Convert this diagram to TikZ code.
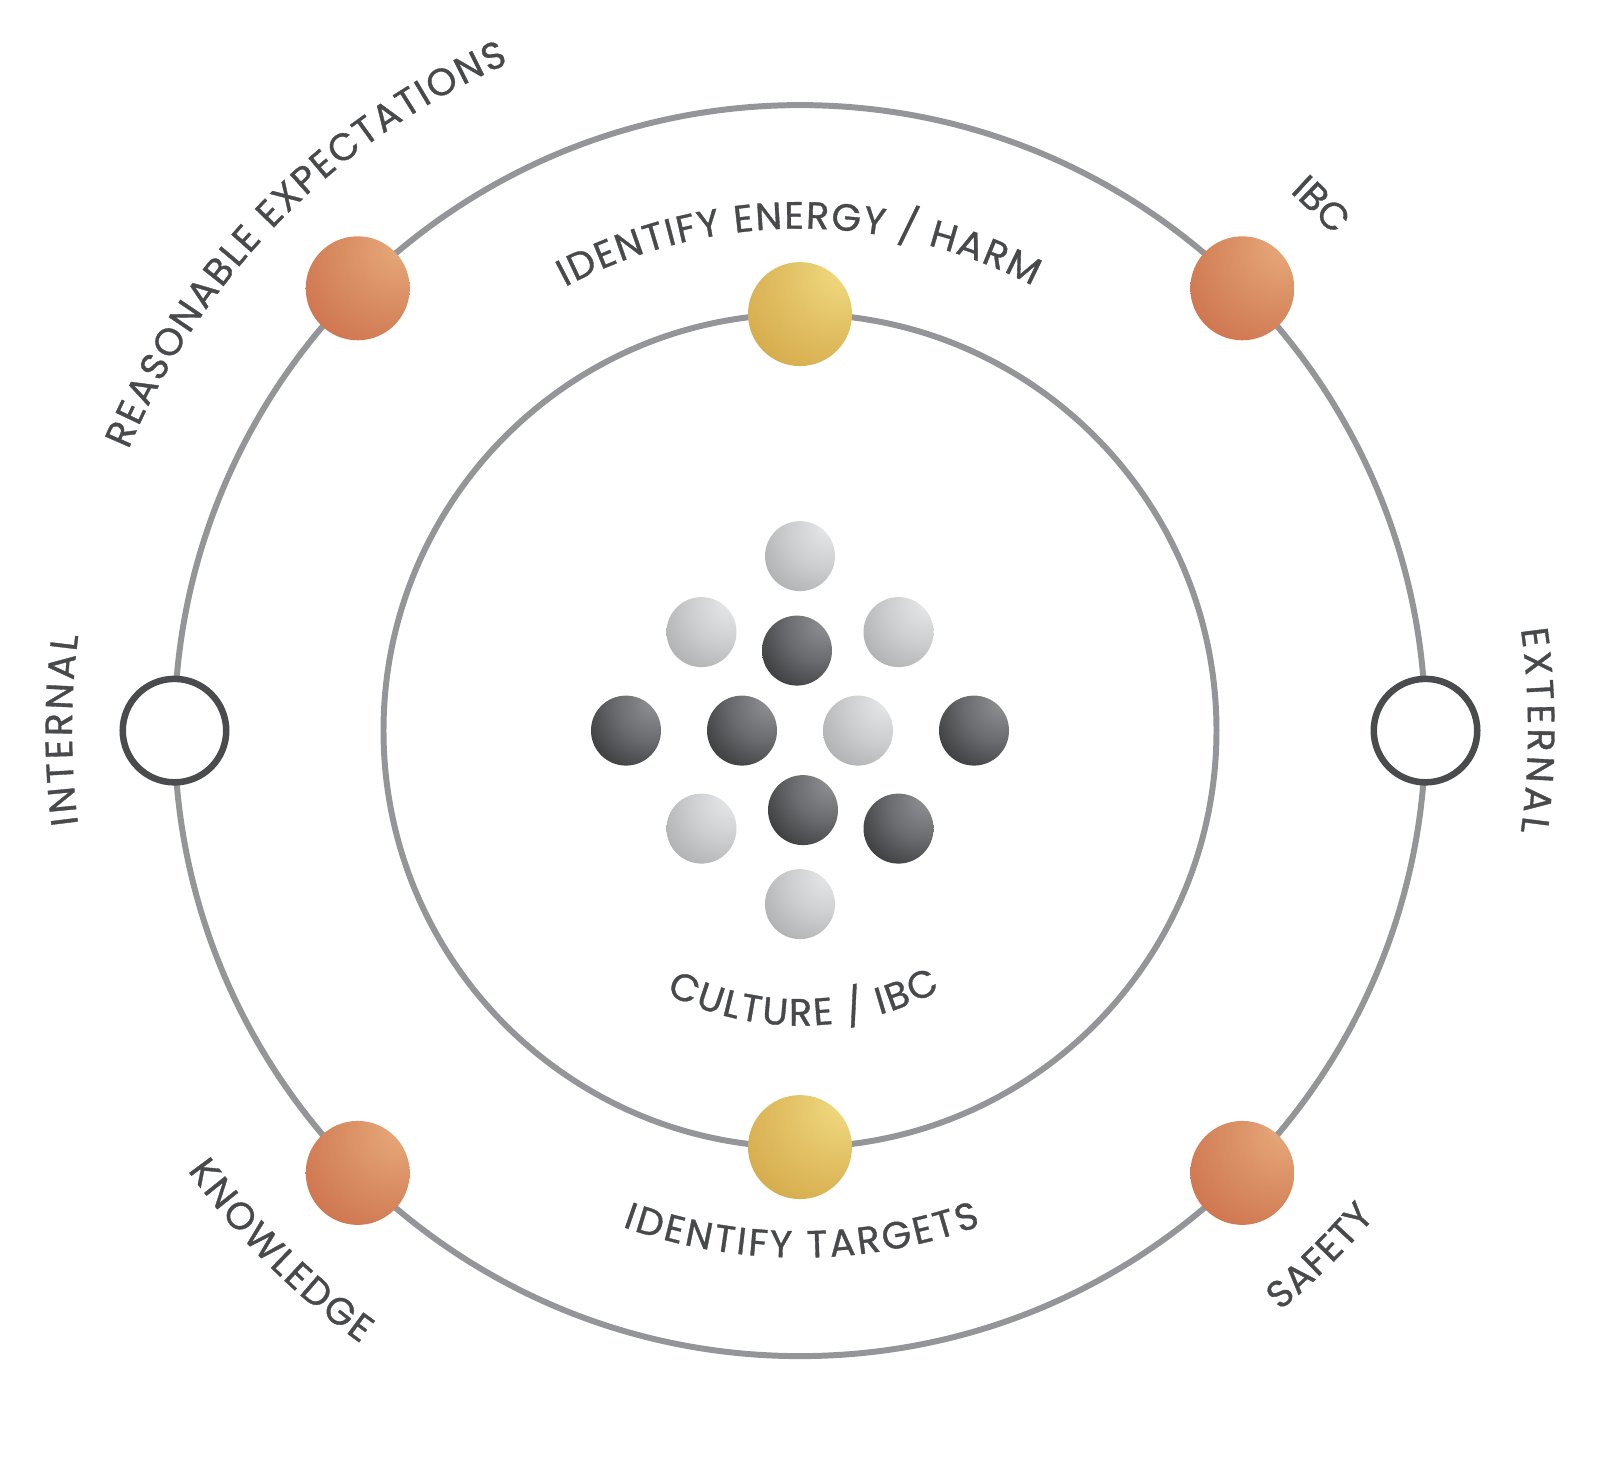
\documentclass[tikz,border=0pt]{standalone}
\usepackage{fontspec}
\setmainfont{Poppins}[FakeBold=0.9]
\usepackage{xcolor}
\usepackage{tikz}
\usetikzlibrary{decorations.text}

\definecolor{ringgray}{HTML}{939598}
\definecolor{ringdark}{HTML}{4A4B4D}
\definecolor{txtgray}{HTML}{48494B}
\definecolor{orhi}{HTML}{E8AA7C}
\definecolor{ormid}{HTML}{D98E62}
\definecolor{ormlo}{HTML}{CF7650}
\definecolor{orlo}{HTML}{C0563A}
\definecolor{yehi}{HTML}{F2DC82}
\definecolor{yemid}{HTML}{E2C064}
\definecolor{yemlo}{HTML}{D6AD4E}
\definecolor{yelo}{HTML}{C6983A}
\definecolor{lghi}{HTML}{E8E9EA}
\definecolor{lgmid}{HTML}{CDCECF}
\definecolor{lgmlo}{HTML}{B1B2B4}
\definecolor{lglo}{HTML}{939497}
\definecolor{dkhi}{HTML}{939497}
\definecolor{dkmid}{HTML}{6A6B6E}
\definecolor{dkmlo}{HTML}{3E3F41}
\definecolor{dklo}{HTML}{0E0E0E}

\pgfdeclareradialshading{orangeball}{\pgfpoint{22bp}{22bp}}{color(0bp)=(orhi); color(25bp)=(ormid); color(45bp)=(ormlo); color(64bp)=(orlo); color(120bp)=(orlo)}
\pgfdeclareradialshading{yellowball}{\pgfpoint{22bp}{22bp}}{color(0bp)=(yehi); color(25bp)=(yemid); color(45bp)=(yemlo); color(64bp)=(yelo); color(120bp)=(yelo)}
\pgfdeclareradialshading{lightball}{\pgfpoint{22bp}{22bp}}{color(0bp)=(lghi); color(25bp)=(lgmid); color(45bp)=(lgmlo); color(64bp)=(lglo); color(120bp)=(lglo)}
\pgfdeclareradialshading{darkball}{\pgfpoint{22bp}{22bp}}{color(0bp)=(dkhi); color(25bp)=(dkmid); color(45bp)=(dkmlo); color(64bp)=(dklo); color(120bp)=(dklo)}

\newcommand\arcfont{\fontsize{10.8pt}{13pt}\selectfont}

\begin{document}
\begin{tikzpicture}[
  orbit/.style={draw=ringgray, line width=1.7pt},
  bigball/.style={circle, inner sep=0pt, minimum size=1.04cm},
  dot/.style={circle, inner sep=0pt, minimum size=0.7cm},
  hollow/.style={circle, inner sep=0pt, minimum size=1.035cm, draw=ringdark, line width=1.85pt, fill=white},
  arclabel/.style={decorate, decoration={text along path, text align=fit to path, text color=txtgray, text={|\arcfont|#1}}}]
\useasboundingbox (-8,-7.294) rectangle (8,7.306);

\draw[orbit] (0,0) circle[radius=6.255];
\draw[orbit] (0,0) circle[radius=4.165];

\node (expect) [bigball, shading=orangeball] at (135:6.255) {};
\node (ibc) [bigball, shading=orangeball] at (45:6.255) {};
\node (knowledge) [bigball, shading=orangeball] at (225:6.255) {};
\node (safety) [bigball, shading=orangeball] at (315:6.255) {};
\node (energy) [bigball, shading=yellowball] at (90:4.165) {};
\node (targets) [bigball, shading=yellowball] at (270:4.165) {};
\node (internal) [hollow] at (180:6.255) {};
\node (external) [hollow] at (0:6.255) {};

\foreach \x/\y/\sh [count=\i] in {0/1.745/lightball, -0.985/0.985/lightball, -0.03/0.80/darkball, 0.985/0.985/lightball,
    -1.74/0/darkball, -0.58/0/darkball, 0.58/0/lightball, 1.74/0/darkball,
    -0.985/-0.98/lightball, 0.03/-0.795/darkball, 0.985/-0.98/darkball, 0/-1.735/lightball}
  \node (dot\i) [dot, shading=\sh] at (\x,\y) {};

\path[arclabel={REASONABLE EXPECTATIONS}] (157.3:7.28) arc[start angle=157.3, end angle=113.6, radius=7.28];
\path[arclabel={IBC}] (47.7:7.28) arc[start angle=47.7, end angle=43.1, radius=7.28];
\path[arclabel={INTERNAL}] (187.4:7.28) arc[start angle=187.4, end angle=172.5, radius=7.28];
\path[arclabel={EXTERNAL}] (8:7.28) arc[start angle=8, end angle=-8, radius=7.28];
\path[arclabel={KNOWLEDGE}] (215.7:7.54) arc[start angle=215.7, end angle=234.4, radius=7.54];
\path[arclabel={SAFETY}] (309.6:7.53) arc[start angle=309.6, end angle=319.8, radius=7.53];
\path[arclabel={IDENTIFY ENERGY / HARM}] (117.9:5.02) arc[start angle=117.9, end angle=62.4, radius=5.02];
\path[arclabel={IDENTIFY TARGETS}] (250.3:5.27) arc[start angle=250.3, end angle=290.1, radius=5.27];
\path[arclabel={CULTURE / IBC}] (243:2.95) arc[start angle=243, end angle=298.5, radius=2.95];
\end{tikzpicture}
\end{document}
